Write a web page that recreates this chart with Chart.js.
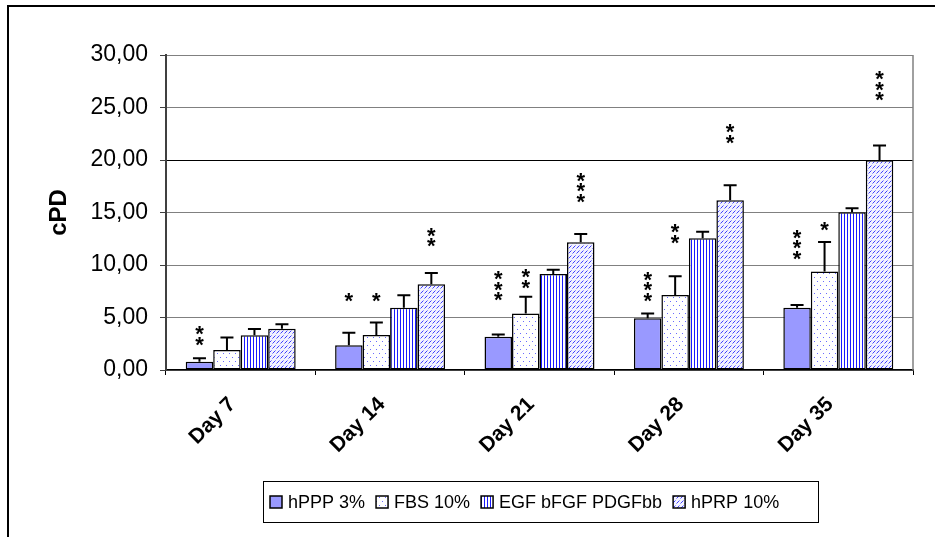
<!DOCTYPE html>
<html><head><meta charset="utf-8">
<script src="https://cdn.jsdelivr.net/npm/chart.js@4/dist/chart.umd.min.js"></script>
<style>html,body{margin:0;padding:0;background:#fff;}#wrap{width:935px;height:537px;position:relative;}</style>
</head><body><div id="wrap"><canvas id="c" width="935" height="537"></canvas></div>
<script>
const categories = ['Day 7', 'Day 14', 'Day 21', 'Day 28', 'Day 35'];
const seriesNames = ['hPPP 3%', 'FBS 10%', 'EGF bFGF PDGFbb', 'hPRP 10%'];
const hPPP = [0.79, 2.35, 3.17, 4.92, 5.93];
const FBS  = [1.90, 3.33, 5.37, 7.14, 9.37];
const EGF  = [3.30, 5.93, 9.14, 12.54, 15.02];
const hPRP = [3.93, 8.16, 12.16, 16.16, 19.97];
const errPPP = [0.32, 1.20, 0.20, 0.45, 0.26];
const errFBS = [1.20, 1.20, 1.60, 1.80, 2.83];
const errEGF = [0.60, 1.20, 0.40, 0.63, 0.38];
const errPRP = [0.42, 1.08, 0.80, 1.43, 1.40];
// significance markers: number of asterisks and value level of the lowest asterisk
const starsPPP = [2, 1, 3, 3, 3];
const starsFBS = [0, 1, 2, 2, 1];
const starsEGF = [0, 0, 0, 0, 0];
const starsPRP = [0, 2, 3, 2, 3];
const starLvlPPP = [2.76, 6.89, 6.98, 6.95, 10.95];
const starLvlFBS = [0, 6.89, 8.19, 12.45, 13.65];
const starLvlEGF = [0, 0, 0, 0, 0];
const starLvlPRP = [0, 12.1, 16.35, 22.0, 26.03];
const yTicks = [0, 5, 10, 15, 20, 25, 30];

const FONT = '"Liberation Sans", Arial, sans-serif';
const canvas = document.getElementById('c');
const ctx = canvas.getContext('2d');

function makePattern(w, h, bg, draw) {
  const c = document.createElement('canvas');
  c.width = w; c.height = h;
  const g = c.getContext('2d');
  g.fillStyle = bg; g.fillRect(0, 0, w, h);
  draw(g);
  return ctx.createPattern(c, 'repeat');
}
const fillPPP = '#9999FF';
const fillFBS = makePattern(6, 8, '#ffffff', g => {
  g.fillStyle = '#6a6aff'; g.fillRect(1, 1, 1, 1); g.fillRect(4, 5, 1, 1);
});
const fillEGF = makePattern(3, 1, '#ffffff', g => {
  g.fillStyle = '#1a1aff'; g.fillRect(1, 0, 1, 1);
});
const fillPRP = makePattern(4, 5, '#f2f2ff', g => {
  g.fillStyle = '#4040ff'; g.fillRect(1, 2, 1, 1); g.fillRect(2, 1, 1, 1);
  g.fillStyle = '#9a9aff'; g.fillRect(0, 3, 1, 1); g.fillRect(3, 0, 1, 1);
});

const seriesData = [hPPP, FBS, EGF, hPRP];
const seriesErr = [errPPP, errFBS, errEGF, errPRP];
const seriesStars = [starsPPP, starsFBS, starsEGF, starsPRP];
const seriesStarLvl = [starLvlPPP, starLvlFBS, starLvlEGF, starLvlPRP];
const seriesFill = [fillPPP, fillFBS, fillEGF, fillPRP];

const datasets = seriesNames.map((name, i) => ({
  label: name,
  data: seriesData[i],
  err: seriesErr[i],
  stars: seriesStars[i],
  starLvl: seriesStarLvl[i],
  backgroundColor: seriesFill[i],
  borderColor: '#000',
  borderWidth: 1.5,
  borderSkipped: false,
  categoryPercentage: 0.736,
  barPercentage: 1.0
}));

const decor = {
  id: 'decor',
  beforeDraw(chart) {
    const c = chart.ctx;
    c.save();
    c.fillStyle = '#fff';
    c.fillRect(0, 0, chart.width, chart.height);
    c.restore();
  },
  afterDatasetsDraw(chart) {
    const c = chart.ctx;
    const ys = chart.scales.y;
    c.save();
    chart.data.datasets.forEach((ds, di) => {
      const meta = chart.getDatasetMeta(di);
      meta.data.forEach((bar, i) => {
        const v = ds.data[i];
        const top = ys.getPixelForValue(v + ds.err[i]);
        c.strokeStyle = '#000';
        c.lineWidth = 2;
        c.beginPath();
        c.moveTo(bar.x, bar.y);
        c.lineTo(bar.x, top);
        c.moveTo(bar.x - 6.5, top);
        c.lineTo(bar.x + 6.5, top);
        c.stroke();
        const n = ds.stars[i];
        if (n > 0) {
          c.fillStyle = '#000';
          c.font = 'bold 22px ' + FONT;
          c.textAlign = 'center';
          c.textBaseline = 'alphabetic';
          const m = c.measureText('*');
          const off = (m.actualBoundingBoxAscent - m.actualBoundingBoxDescent) / 2;
          for (let k = 0; k < n; k++) {
            const y = ys.getPixelForValue(ds.starLvl[i] + k);
            c.fillText('*', bar.x, y + off);
          }
        }
      });
    });
    c.restore();
  },
  afterDraw(chart) {
    const c = chart.ctx;
    const a = chart.chartArea;
    c.save();
    // plot area right border
    c.strokeStyle = '#808080';
    c.lineWidth = 1.5;
    c.beginPath();
    c.moveTo(a.right, a.top);
    c.lineTo(a.right, a.bottom);
    c.stroke();
    // outer frame
    c.strokeStyle = '#000';
    c.lineWidth = 2;
    c.strokeRect(8, 6, 1000, 1000);
    // legend
    c.lineWidth = 1;
    c.strokeRect(263.5, 481.5, 555, 41);
    c.font = '18px ' + FONT;
    c.textBaseline = 'middle';
    c.textAlign = 'left';
    let x = 270;
    const cy = 502;
    chart.data.datasets.forEach(ds => {
      c.fillStyle = ds.backgroundColor;
      c.fillRect(x, cy - 6, 12, 12);
      c.strokeStyle = '#000';
      c.lineWidth = 1.5;
      c.strokeRect(x, cy - 6, 12, 12);
      c.fillStyle = '#000';
      c.fillText(ds.label, x + 18, cy + 1);
      x += 18 + c.measureText(ds.label).width + 11;
    });
    c.restore();
  }
};

new Chart(ctx, {
  type: 'bar',
  data: { labels: categories, datasets },
  options: {
    responsive: false,
    animation: false,
    devicePixelRatio: 1,
    layout: { padding: { left: 0, right: 22, top: 55, bottom: 0 } },
    plugins: { legend: { display: false }, tooltip: { enabled: false } },
    scales: {
      x: {
        offset: true,
        grid: { display: true, drawOnChartArea: false, drawTicks: true, tickLength: 5, offset: true, color: '#000', tickColor: '#000' },
        border: { color: '#000', width: 1.5 },
        ticks: {
          callback: function (v) { return this.getLabelForValue(v) + '\u00a0\u00a0'; },
          font: { family: FONT, size: 21, weight: 'bold' }, color: '#000',
          minRotation: 45, maxRotation: 45, padding: 9
        },
        afterFit: s => { s.height = 167; }
      },
      y: {
        min: 0, max: 30,
        afterBuildTicks: s => { s.ticks = yTicks.map(v => ({ value: v })); },
        ticks: {
          callback: v => v.toFixed(2).replace('.', ','),
          font: { family: FONT, size: 23 }, color: '#000', padding: 12
        },
        grid: {
          color: c => (c.tick && c.tick.value === 20) ? '#000' : '#808080',
          tickColor: '#404040', tickLength: 6, drawTicks: true, lineWidth: 1
        },
        border: { color: '#404040', width: 2 },
        title: { display: true, text: 'cPD', font: { family: FONT, size: 24, weight: 'bold' }, color: '#000', padding: { top: 45, bottom: 0 } },
        afterFit: s => { s.width = 166; }
      }
    }
  },
  plugins: [decor]
});
</script>
</body></html>
